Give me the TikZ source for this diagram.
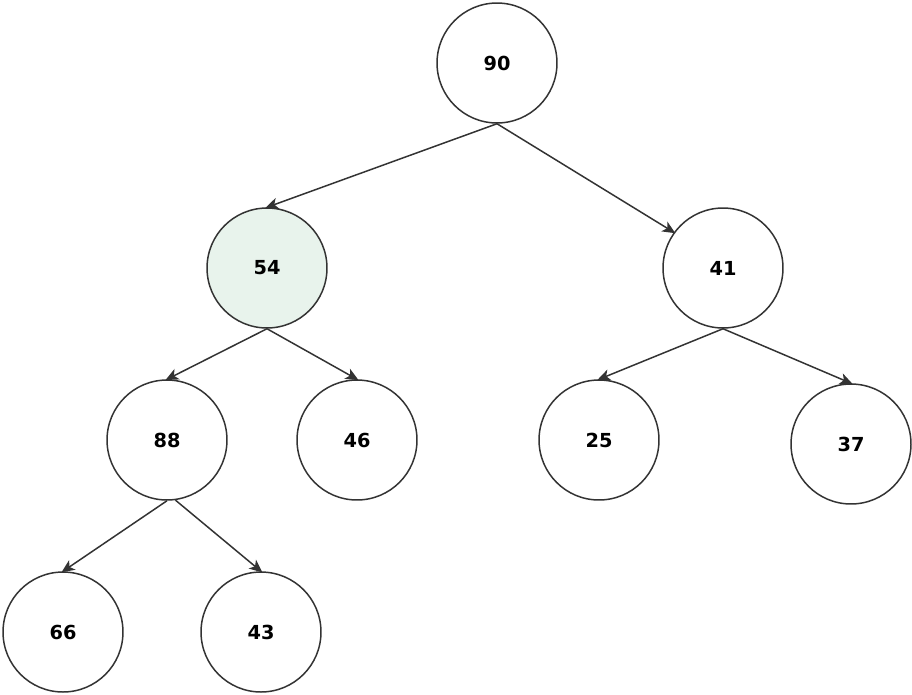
\documentclass[tikz,border=0pt]{standalone}
\usepackage{fontspec}
\setmainfont{DejaVu Sans}
\usetikzlibrary{arrows.meta}

\definecolor{edgegray}{HTML}{333333}
\definecolor{markgreen}{HTML}{E8F3EC}

\begin{document}
\begin{tikzpicture}[x=0.02cm,y=-0.02cm,>={Stealth[length=2.6mm,width=2.3mm,inset=0.7mm]},
  heapnode/.style={circle,draw=edgegray,line width=0.85pt,minimum size=2.4cm,inner sep=0pt,
    font=\fontsize{11}{13}\selectfont\bfseries},
  heapedge/.style={->,draw=edgegray,line width=0.85pt,shorten >=-1pt}]
\useasboundingbox (0,0) rectangle (912,694);
% tree nodes
\node[heapnode] (n90) at (497,63) {90};
\node[heapnode,fill=markgreen] (n54) at (267,268) {54};
\node[heapnode] (n41) at (723,268) {41};
\node[heapnode] (n88) at (167,440) {88};
\node[heapnode] (n46) at (357,440) {46};
\node[heapnode] (n25) at (599,440) {25};
\node[heapnode] (n37) at (851,444) {37};
\node[heapnode] (n66) at (63,632) {66};
\node[heapnode] (n43) at (261,632) {43};
% edges
\draw[heapedge] (n90.south) -- (n54.north);
\draw[heapedge] (n90.south) -- (n41.144);
\draw[heapedge] (n54.south) -- (n88.north);
\draw[heapedge] (n54.south) -- (n46.north);
\draw[heapedge] (n41.south) -- (n25.north);
\draw[heapedge] (n41.south) -- (n37.north);
\draw[heapedge] (n88.south) -- (n66.north);
\draw[heapedge] (n88.-82) -- (n43.north);
\end{tikzpicture}
\end{document}
